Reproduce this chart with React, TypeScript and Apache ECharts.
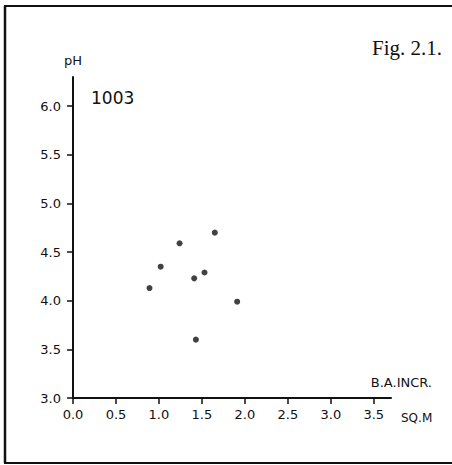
import React, { useEffect, useRef } from "react";
import * as echarts from "echarts";

const xValues = [0.89, 1.02, 1.24, 1.41, 1.43, 1.53, 1.65, 1.91];
const yValues = [4.13, 4.35, 4.59, 4.23, 3.6, 4.29, 4.7, 3.99];
const xTicks = [0, 0.5, 1, 1.5, 2, 2.5, 3, 3.5];
const yTicks = [3, 3.5, 4, 4.5, 5, 5.5, 6];
const yAxisTitle = "pH";
const xAxisTitle = "B.A.INCR.";
const xUnit = "SQ.M";
const plotLabel = "1003";
const figLabel = "Fig. 2.1.";

const FONT = "DejaVu Sans";
const INK = "#111";

export default function App() {
  const ref = useRef<HTMLDivElement>(null);
  useEffect(() => {
    if (!ref.current) return;
    const chart = echarts.init(ref.current, null, { renderer: "svg" });
    const points = xValues.map((x, i) => [x, yValues[i]]);
    chart.setOption({
      animation: false,
      backgroundColor: "#fff",
      grid: { left: 73, right: 61, top: 77, bottom: 67 },
      xAxis: {
        type: "value",
        min: 0,
        max: 3.7,
        interval: 0.5,
        splitLine: { show: false },
        axisLine: { show: true, lineStyle: { color: INK, width: 2 } },
        axisTick: {
          show: true,
          length: 6,
          customValues: xTicks,
          lineStyle: { color: INK, width: 1.5 },
        },
        axisLabel: {
          customValues: xTicks,
          margin: 10,
          color: INK,
          fontFamily: FONT,
          fontSize: 13,
          formatter: (v: number) => v.toFixed(1),
        },
      },
      yAxis: {
        type: "value",
        min: 3,
        max: 6.3,
        interval: 0.5,
        splitLine: { show: false },
        axisLine: { show: true, lineStyle: { color: INK, width: 2 } },
        axisTick: {
          show: true,
          length: 6,
          customValues: yTicks,
          lineStyle: { color: INK, width: 1.5 },
        },
        axisLabel: {
          customValues: yTicks,
          margin: 12,
          color: INK,
          fontFamily: FONT,
          fontSize: 13,
          formatter: (v: number) => v.toFixed(1),
        },
      },
      series: [
        {
          type: "scatter",
          data: points,
          symbol: "circle",
          symbolSize: 6,
          itemStyle: { color: INK },
        },
      ],
      graphic: [
        { type: "line", shape: { x1: 4, y1: 6, x2: 452, y2: 6 }, style: { stroke: INK, lineWidth: 2 } },
        { type: "line", shape: { x1: 5, y1: 6, x2: 5, y2: 463 }, style: { stroke: INK, lineWidth: 2.5 } },
        { type: "line", shape: { x1: 4, y1: 463, x2: 452, y2: 463 }, style: { stroke: INK, lineWidth: 2 } },
        {
          type: "text",
          x: 442,
          y: 37,
          style: { text: figLabel, font: "21px 'Liberation Serif'", fill: INK, textAlign: "right", textVerticalAlign: "alphabetic" },
        },
        {
          type: "text",
          x: 73,
          y: 60,
          style: { text: yAxisTitle, font: `13px '${FONT}'`, fill: INK, textAlign: "center", textVerticalAlign: "middle" },
        },
        {
          type: "text",
          x: 91,
          y: 98,
          style: { text: plotLabel, font: `17px '${FONT}'`, fill: INK, textAlign: "left", textVerticalAlign: "middle" },
        },
        {
          type: "text",
          x: 432,
          y: 382,
          style: { text: xAxisTitle, font: `13px '${FONT}'`, fill: INK, textAlign: "right", textVerticalAlign: "middle" },
        },
        {
          type: "text",
          x: 401,
          y: 418,
          style: { text: xUnit, font: `12px '${FONT}'`, fill: INK, textAlign: "left", textVerticalAlign: "middle" },
        },
      ],
    });
    return () => chart.dispose();
  }, []);
  return <div ref={ref} style={{ position: "absolute", left: 0, top: 0, width: 452, height: 465 }} />;
}
